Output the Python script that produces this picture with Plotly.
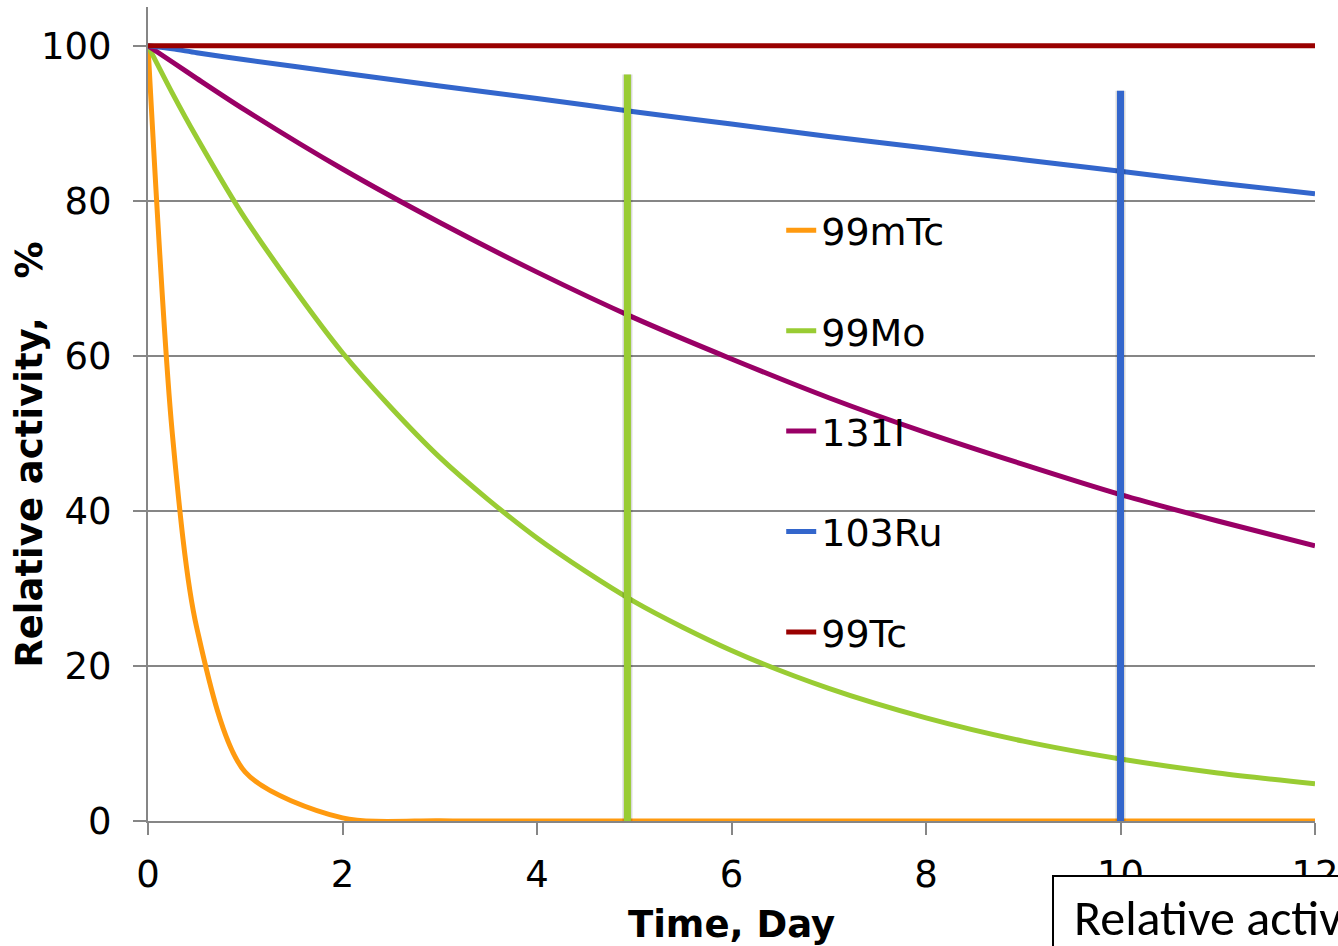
import plotly.graph_objects as go

# Time points in days
days = [0, 0.25, 0.5, 1, 2, 3, 4, 5, 6, 7, 8, 9, 10, 11, 12]

# Relative activity (%) of each nuclide
tc99m = [100, 50.0, 25.0, 6.3, 0.4, 0.02, 0, 0, 0, 0, 0, 0, 0, 0, 0]
mo99 = [100, 93.9, 88.2, 77.7, 60.4, 46.9, 36.5, 28.3, 22.0, 17.1, 13.3, 10.3, 8.0, 6.2, 4.8]
i131 = [100, 97.9, 95.8, 91.7, 84.1, 77.2, 70.8, 64.9, 59.6, 54.6, 50.1, 46.0, 42.1, 38.7, 35.5]
ru103 = [100, 99.6, 99.1, 98.2, 96.5, 94.8, 93.2, 91.5, 89.9, 88.3, 86.8, 85.3, 83.8, 82.3, 80.9]
tc99 = [100, 100, 100, 100, 100, 100, 100, 100, 100, 100, 100, 100, 100, 100, 100]

series_names = ["99mTc", "99Mo", "131I", "103Ru", "99Tc"]
series_values = [tc99m, mo99, i131, ru103, tc99]
series_colors = ["#FF9A0F", "#99CC33", "#990066", "#3366CC", "#990000"]

# Vertical reference markers (day, height %)
marker_days = [4.93, 10.0]
marker_tops = [96.3, 94.2]
marker_colors = ["#99CC33", "#3366CC"]

axis_font = "DejaVu Sans, Verdana, sans-serif"

fig = go.Figure()

for name, vals, col in zip(series_names, series_values, series_colors):
    fig.add_trace(go.Scatter(
        x=days, y=vals, name=name, mode="lines",
        line=dict(color=col, width=5, shape="spline", smoothing=0.8),
        legendgroup=name,
    ))

for d, top, col in zip(marker_days, marker_tops, marker_colors):
    # soft shadow
    fig.add_trace(go.Scatter(
        x=[d, d], y=[0, top], mode="lines",
        line=dict(color="rgba(0,0,0,0.15)", width=10),
        showlegend=False, hoverinfo="skip",
    ))
    fig.add_trace(go.Scatter(
        x=[d, d], y=[0, top], mode="lines",
        line=dict(color=col, width=7),
        showlegend=False, hoverinfo="skip",
    ))

# Partially visible caption box in the lower right corner
fig.add_shape(type="rect", xref="paper", yref="paper",
              x0=0.7755, x1=1.2, y0=-0.35, y1=-0.0676,
              line=dict(color="black", width=2), fillcolor="white", layer="above")
fig.add_annotation(xref="paper", yref="paper", x=0.7915, y=-0.118,
                   xanchor="left", yanchor="middle", showarrow=False,
                   text="Relative activity, %",
                   font=dict(family="Carlito, Liberation Sans, sans-serif", size=50, color="black"))

# Y-axis title placed as an annotation
fig.add_annotation(xref="paper", yref="paper", x=-0.101, y=0.45,
                   xanchor="center", yanchor="middle", showarrow=False,
                   textangle=-90,
                   text="<b>Relative activity,\u00a0\u00a0 %</b>",
                   font=dict(family=axis_font, size=37, color="black"))

fig.update_layout(
    width=1338, height=946,
    margin=dict(l=148, r=23, t=7, b=125),
    paper_bgcolor="white", plot_bgcolor="white",
    font=dict(family=axis_font, size=37, color="black"),
    showlegend=True,
    legend=dict(
        x=0.5426, y=0.764, xanchor="left", yanchor="top",
        bgcolor="rgba(0,0,0,0)", borderwidth=0,
        font=dict(family=axis_font, size=38, color="black"),
        tracegroupgap=48, traceorder="grouped",
    ),
    xaxis=dict(
        range=[0, 12], tickvals=[0, 2, 4, 6, 8, 10, 12],
        showgrid=False, zeroline=False, automargin=False,
        showline=True, linecolor="#868686", linewidth=2,
        ticks="outside", ticklen=12, tickcolor="#868686", tickwidth=2,
        ticklabelstandoff=8, ticklabeloverflow="allow",
        title=dict(text="<b>Time, Day</b>", font=dict(size=37), standoff=16),
    ),
    yaxis=dict(
        range=[0, 105], tickvals=[0, 20, 40, 60, 80, 100],
        showgrid=True, gridcolor="#868686", gridwidth=2,
        zeroline=False, automargin=False,
        showline=True, linecolor="#868686", linewidth=2,
        ticks="outside", ticklen=13, tickcolor="#868686", tickwidth=2,
        ticklabelstandoff=14,
    ),
)

fig.write_html("out.html")
